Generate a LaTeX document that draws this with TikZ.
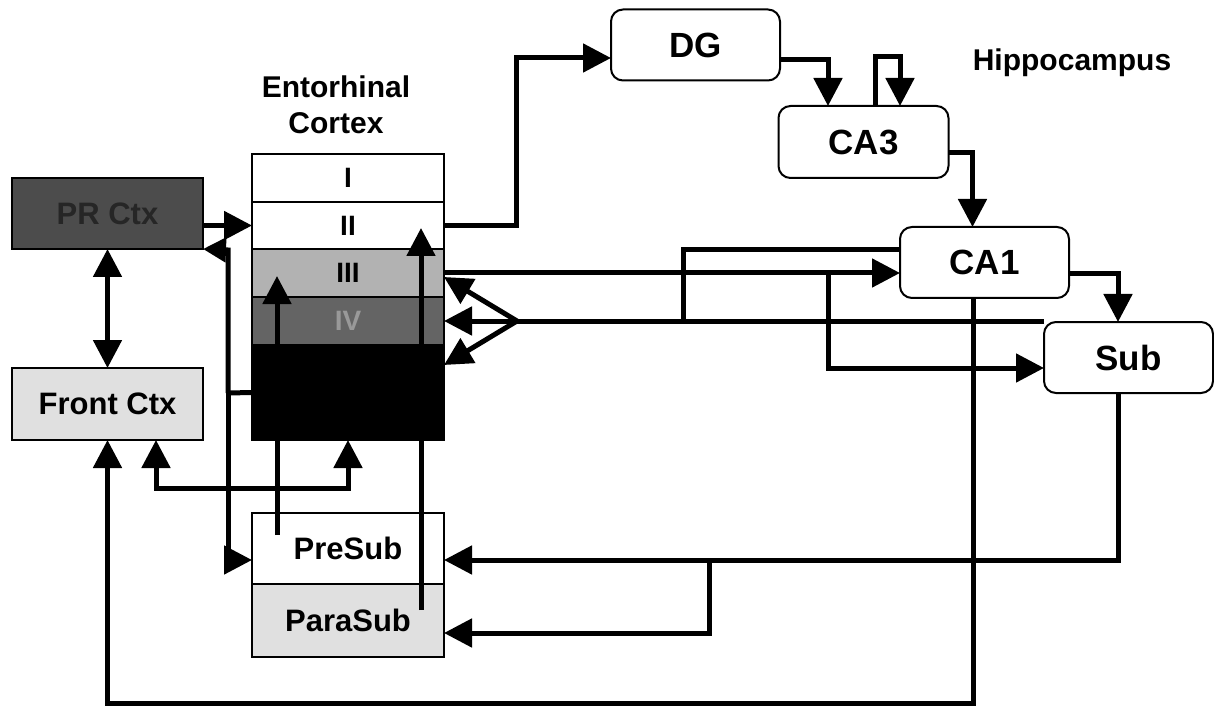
\documentclass[tikz,border=0pt]{standalone}
\usepackage{fontspec}
\setmainfont{Liberation Sans}
\usepackage{xcolor}
\definecolor{cInk}{HTML}{000000}
\definecolor{cDark}{HTML}{4C4C4C}
\definecolor{cMid}{HTML}{646464}
\definecolor{cSoft}{HTML}{B2B2B2}
\definecolor{cPale}{HTML}{E0E0E0}
\usetikzlibrary{arrows.meta,calc}
\tikzset{
  node-box/.style={draw=cInk,line width=2pt,inner sep=0pt,outer sep=0pt,
    minimum width=191pt,minimum height=71pt,align=center,
    font=\fontsize{31}{36}\selectfont\bfseries},
  node-layer/.style={node-box,minimum width=192pt,minimum height=48pt,
    font=\fontsize{28}{32}\selectfont\bfseries},
  node-hip/.style={node-box,rounded corners=12pt,minimum width=169pt,
    minimum height=71pt,fill=white,font=\fontsize{35}{40}\selectfont\bfseries},
  node-title/.style={align=center,font=\fontsize{30}{36}\selectfont\bfseries},
  % all connectors: thick black lines, large solid triangle heads
  arrow/.style={-{Triangle[length=28pt,width=28pt]},line width=5pt,draw=cInk},
  arrow-both/.style={{Triangle[length=28pt,width=28pt]}-{Triangle[length=28pt,width=28pt]},
    line width=5pt,draw=cInk},
  line-plain/.style={line width=5pt,draw=cInk},
}

\begin{document}
\begin{tikzpicture}[x=1pt,y=-1pt]
  \useasboundingbox (0,0) rectangle (1214,708);
  \node[node-box,fill=cDark,text=black!85] (pr) at (107.5,213.5) {PR Ctx};
  \node[node-box,fill=cPale,minimum height=72pt] (front) at (107.5,404) {Front Ctx};
  \node[node-title] (ecTitle) at (336,105) {Entorhinal\\Cortex};
  \node[node-layer] (l1) at (348,178) {I};
  \node[node-layer,minimum height=47pt] (l2) at (348,225.5) {II};
  \node[node-layer,fill=cSoft] (l3) at (348,273) {III};
  \node[node-layer,fill=cMid,text=black!40] (l4) at (348,321) {IV};
  \node[node-layer,fill=cInk,minimum height=95pt] (l5) at (348,392.5) {};
  \node[node-box,minimum width=192pt] (presub) at (348,548.5) {PreSub};
  \node[node-box,minimum width=192pt,minimum height=73pt,fill=cPale] (parasub) at (348,620.5) {ParaSub};
  \node[node-hip] (dg) at (695.5,45) {DG};
  \node[node-hip,minimum width=170pt,minimum height=72pt] (ca3) at (863.5,142) {CA3};
  \node[node-hip] (ca1) at (984.5,262.5) {CA1};
  \node[node-hip] (sub) at (1128.5,357.5) {Sub};
  \node[node-title] (hipTitle) at (1072,63) {Hippocampus};

  \coordinate (jDeep) at (228,393);
  \coordinate (jIII) at (828,273);
  \coordinate (apex) at (517,321);
  \coordinate (jCA1) at (683,321);
  \coordinate (jSub) at (709,560);

  \draw[arrow] (pr.east |- l2.west) -- (l2.west);
  \draw[arrow-both] (pr) -- (front);
  \draw[line-plain] (l5.west) -- (jDeep);
  \draw[arrow,-{Triangle[length=23pt,width=24pt]}] (jDeep) -- (228,250) -- (pr.south east);
  \draw[arrow] (jDeep) |- ([yshift=-11.5pt]presub.west);
  \draw[arrow-both] ([xshift=48.5pt]front.south) -- ++(0,48) -| (l5.south);

  \draw[arrow] (l3.east) -- (l3.east -| ca1.west);
  \draw[arrow] (jIII) |- ([yshift=-10.5pt]sub.west);
  \draw[line-plain] ([yshift=1pt]sub.north west) -- (apex);
  \draw[line-plain] ([yshift=12.5pt]ca1.west) -| (jCA1);
  \draw[arrow] (apex) -- ([yshift=-4pt]l3.east);
  \draw[arrow] (apex) -- (l4.east);
  \draw[arrow] (apex) -- ([yshift=27.5pt]l5.east);

  \draw[arrow] ([xshift=-71pt,yshift=13.5pt]presub.center) -- ([xshift=-71pt,yshift=-3pt]l3.center);
  \draw[arrow] ([xshift=73pt,yshift=10.5pt]parasub.center) -- ([xshift=73pt,yshift=-2.5pt]l2.center);

  \draw[arrow] (l2.east) -- ++(72,0) |- ([yshift=-13pt]dg.west);
  \draw[arrow] ([yshift=-15pt]dg.east) -| ([xshift=-35.5pt]ca3.north);
  \draw[arrow] ([xshift=11.5pt]ca3.north) -- ++(0,-49) -| ([xshift=36.5pt]ca3.north);
  \draw[arrow] ([yshift=-11pt]ca3.east) -| ([xshift=-12pt]ca1.north);
  \draw[arrow] ([yshift=-11.5pt]ca1.east) -| ([xshift=-10.5pt]sub.north);
  \draw[arrow] ([xshift=-11.5pt]ca1.south) -- ++(0,405) -| (front.south);
  \draw[arrow] ([xshift=-10.5pt]sub.south) |- ([yshift=-11.5pt]presub.east);
  \draw[arrow] (jSub) |- ([yshift=-12.5pt]parasub.east);
\end{tikzpicture}
\end{document}
